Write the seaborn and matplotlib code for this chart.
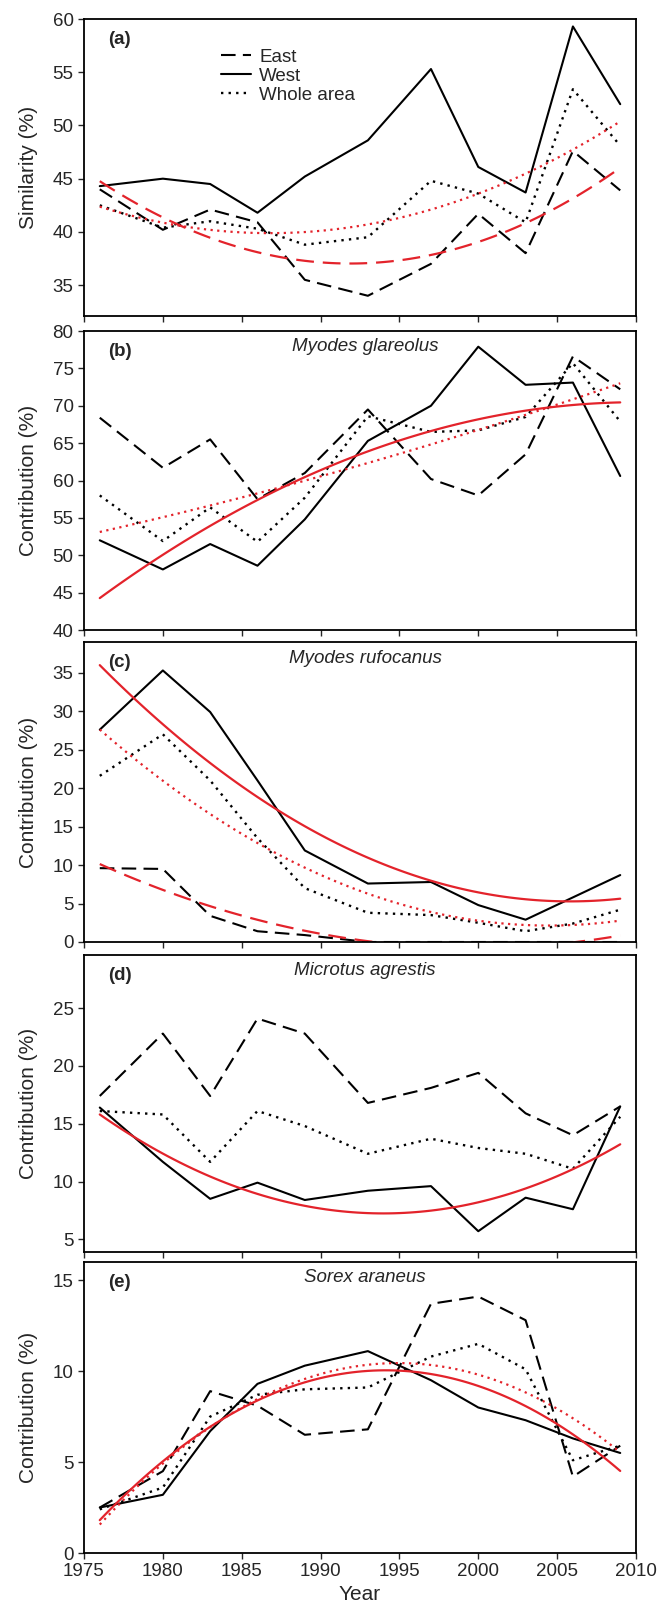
import numpy as np
import pandas as pd
import seaborn as sns
import matplotlib
matplotlib.use("Agg")
import matplotlib.pyplot as plt
from matplotlib.lines import Line2D

# Years sampled
years = [1976, 1980, 1983, 1986, 1989, 1993, 1997, 2000, 2003, 2006, 2009]

# (a) similarity
east_a = [44.0, 40.2, 42.1, 40.9, 35.5, 34.0, 37.0, 41.7, 38.0, 47.6, 43.9]
west_a = [44.3, 45.0, 44.5, 41.8, 45.2, 48.6, 55.3, 46.1, 43.7, 59.3, 52.0]
whole_a = [42.5, 40.4, 41.0, 40.3, 38.8, 39.5, 44.8, 43.6, 40.9, 53.4, 48.1]

# (b) Myodes glareolus
east_b = [68.4, 61.7, 65.5, 57.5, 61.0, 69.5, 60.2, 58.0, 63.5, 76.6, 72.2]
west_b = [52.0, 48.1, 51.5, 48.6, 54.8, 65.3, 70.0, 77.9, 72.8, 73.1, 60.6]
whole_b = [58.0, 51.9, 56.4, 51.8, 57.7, 68.6, 66.5, 66.7, 68.5, 75.7, 67.9]

# (c) Myodes rufocanus
east_c = [9.6, 9.5, 3.4, 1.4, 0.9, 0.0, 0.0, 0.0, 0.0, 0.0, 0.0]
west_c = [27.6, 35.3, 29.9, 21.0, 11.9, 7.6, 7.8, 4.8, 2.9, 5.8, 8.7]
whole_c = [21.6, 27.0, 21.0, 13.5, 7.0, 3.8, 3.5, 2.5, 1.4, 2.4, 4.2]

# (d) Microtus agrestis
east_d = [17.4, 22.8, 17.4, 24.1, 22.8, 16.8, 18.1, 19.4, 15.9, 14.0, 16.5]
west_d = [16.4, 11.7, 8.5, 9.9, 8.4, 9.2, 9.6, 5.7, 8.6, 7.6, 16.5]
whole_d = [16.1, 15.8, 11.7, 16.1, 14.8, 12.4, 13.7, 12.9, 12.4, 11.1, 15.6]

# (e) Sorex araneus
east_e = [2.5, 4.5, 8.9, 8.1, 6.5, 6.8, 13.7, 14.1, 12.8, 4.2, 5.9]
west_e = [2.5, 3.2, 6.7, 9.3, 10.3, 11.1, 9.5, 8.0, 7.3, 6.3, 5.5]
whole_e = [2.4, 3.6, 7.5, 8.7, 9.0, 9.1, 10.8, 11.5, 10.1, 5.1, 5.9]

sns.set_style("ticks")
plt.rcParams["font.family"] = ["Liberation Sans", "DejaVu Sans"]

fig = plt.figure(figsize=(6.67, 16.12), dpi=100)

left, width = 84 / 667, 552 / 667
boxes = [(19, 316), (331, 630), (642, 942), (955, 1252), (1262, 1553)]

DASH = (0, (7, 3.5))
DOT = (0, (1, 2.2))
RED = "#e3232b"

panels = [
    ("(a)", None, east_a, west_a, whole_a, (32.1, 60), [35, 40, 45, 50, 55, 60],
     "Similarity (%)", ["east", "whole"]),
    ("(b)", "Myodes glareolus", east_b, west_b, whole_b, (40, 80),
     [40, 45, 50, 55, 60, 65, 70, 75, 80], "Contribution (%)", ["west", "whole"]),
    ("(c)", "Myodes rufocanus", east_c, west_c, whole_c, (0, 39),
     [0, 5, 10, 15, 20, 25, 30, 35], "Contribution (%)", ["east", "west", "whole"]),
    ("(d)", "Microtus agrestis", east_d, west_d, whole_d, (3.9, 29.6),
     [5, 10, 15, 20, 25], "Contribution (%)", ["west"]),
    ("(e)", "Sorex araneus", east_e, west_e, whole_e, (0, 16),
     [0, 5, 10, 15], "Contribution (%)", ["west", "whole"]),
]

axes = []
for i, (tag, species, east, west, whole, ylim, yt, ylab, fits) in enumerate(panels):
    top, bot = boxes[i]
    ax = fig.add_axes([left, 1 - bot / 1612, width, (bot - top) / 1612])
    axes.append(ax)

    sns.lineplot(x=years, y=east, ax=ax, color="black", lw=1.5, linestyle=DASH)
    sns.lineplot(x=years, y=west, ax=ax, color="black", lw=1.5)
    sns.lineplot(x=years, y=whole, ax=ax, color="black", lw=1.7, linestyle=DOT)

    # quadratic trend lines
    series = {"east": (east, (0, (8, 4))), "west": (west, "-"), "whole": (whole, (0, (1, 2)))}
    for key in fits:
        vals, ls = series[key]
        sns.regplot(x=np.array(years), y=np.array(vals), order=2, ci=None, scatter=False,
                    ax=ax, color=RED, line_kws={"lw": 1.6, "linestyle": ls})

    ax.set_xlim(1975, 2010)
    ax.set_ylim(*ylim)
    ax.set_yticks(yt)
    ax.set_xticks(range(1975, 2011, 5))
    ax.set_ylabel(ylab, fontsize=15)
    ax.yaxis.set_label_coords(-0.084, 0.5)
    ax.set_xlabel("")
    ax.tick_params(labelsize=13.5, length=4.5, width=1, direction="out", pad=3)
    if i < 4:
        ax.tick_params(axis="x", labelbottom=False)
    for sp in ax.spines.values():
        sp.set_visible(True)
        sp.set_linewidth(1.3)
        sp.set_color("black")

    ax.text(0.044, 0.96, tag, transform=ax.transAxes, fontsize=13.5,
            fontweight="bold", va="top", ha="left")
    if species:
        ax.text(0.509, 0.975, species, transform=ax.transAxes, fontsize=13.5,
                style="italic", va="top", ha="center")

handles = [Line2D([], [], color="black", lw=1.5, linestyle=DASH),
           Line2D([], [], color="black", lw=1.5),
           Line2D([], [], color="black", lw=1.7, linestyle=DOT)]
axes[0].legend(handles, ["East", "West", "Whole area"], loc="upper left",
               bbox_to_anchor=(0.248, 0.9), frameon=False, fontsize=13.5,
               handlelength=1.6, handletextpad=0.45, labelspacing=0.1, borderpad=0,
               borderaxespad=0)

axes[-1].set_xlabel("Year", fontsize=15, labelpad=3)

fig.savefig("out.png", dpi=100)
